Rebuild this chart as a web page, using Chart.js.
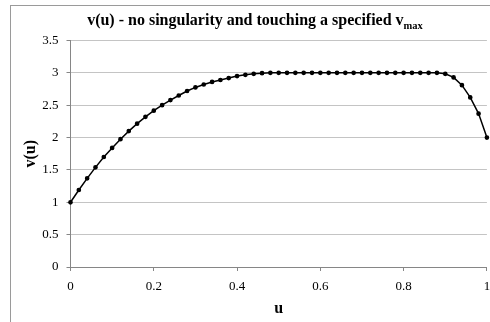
<!DOCTYPE html>
<html>
<head>
<meta charset="utf-8">
<script src="https://cdn.jsdelivr.net/npm/chart.js@4"></script>
<style>
  html, body { margin: 0; padding: 0; background: #fff; }
  #wrap { position: relative; width: 490px; height: 322px; overflow: hidden; }
  #frame { position: absolute; left: 10px; top: 5px; width: 500px; height: 340px; border: 1px solid #9a9a9a; }
  canvas { position: absolute; left: 0; top: 0; }
</style>
</head>
<body>
<div id="wrap">
  <div id="frame"></div>
  <canvas id="chart" width="490" height="322"></canvas>
</div>
<script>
const uValues = [
  0, 0.02, 0.04, 0.06, 0.08, 0.1, 0.12, 0.14, 0.16, 0.18,
  0.2, 0.22, 0.24, 0.26, 0.28, 0.3, 0.32, 0.34, 0.36, 0.38,
  0.4, 0.42, 0.44, 0.46, 0.48, 0.5, 0.52, 0.54, 0.56, 0.58,
  0.6, 0.62, 0.64, 0.66, 0.68, 0.7, 0.72, 0.74, 0.76, 0.78,
  0.8, 0.82, 0.84, 0.86, 0.88, 0.9, 0.92, 0.94, 0.96, 0.98, 1
];
const vValues = [
  1.00, 1.19, 1.37, 1.54, 1.70, 1.84, 1.975, 2.10, 2.215, 2.32,
  2.415, 2.50, 2.58, 2.65, 2.72, 2.775, 2.82, 2.86, 2.89, 2.92,
  2.95, 2.97, 2.985, 2.995, 3.0, 3.0, 3.0, 3.0, 3.0, 3.0,
  3.0, 3.0, 3.0, 3.0, 3.0, 3.0, 3.0, 3.0, 3.0, 3.0,
  3.0, 3.0, 3.0, 3.0, 3.0, 2.985, 2.93, 2.81, 2.62, 2.37, 2.00
];
const xTicks = [0, 0.2, 0.4, 0.6, 0.8, 1];
const yTicks = [0, 0.5, 1, 1.5, 2, 2.5, 3, 3.5];

const titleMain = 'v(u) - no singularity and touching a specified v';
const titleSub = 'max';
const xTitle = 'u';
const yTitle = 'v(u)';

const serif = '"Liberation Serif", "Times New Roman", serif';
const axisColor = '#868686';
const gridColor = '#c4c4c4';

// title with subscript, drawn by hand since Chart.js titles have no sub
const subTitlePlugin = {
  id: 'subTitle',
  afterDraw(chart) {
    const ctx = chart.ctx;
    ctx.save();
    ctx.fillStyle = '#000';
    ctx.textBaseline = 'alphabetic';
    ctx.font = 'bold 16px ' + serif;
    const w1 = ctx.measureText(titleMain).width;
    ctx.font = 'bold 10.5px ' + serif;
    const w2 = ctx.measureText(titleSub).width;
    const x0 = 255 - (w1 + w2) / 2;
    ctx.font = 'bold 16px ' + serif;
    ctx.fillText(titleMain, x0, 25);
    ctx.font = 'bold 10.5px ' + serif;
    ctx.fillText(titleSub, x0 + w1, 29);
    ctx.restore();
  }
};

const points = uValues.map((u, i) => ({ x: u, y: vValues[i] }));

new Chart(document.getElementById('chart'), {
  type: 'scatter',
  data: {
    datasets: [{
      data: points,
      showLine: true,
      borderColor: '#000',
      backgroundColor: '#000',
      borderWidth: 1.5,
      pointRadius: 1.6,
      pointHoverRadius: 1.6,
      pointBackgroundColor: '#000',
      pointBorderColor: '#000',
      tension: 0,
      clip: 6
    }]
  },
  options: {
    responsive: false,
    animation: false,
    events: [],
    layout: { padding: { top: 40.5, right: 1.5, left: 0, bottom: 0 } },
    plugins: {
      legend: { display: false },
      title: { display: false },
      tooltip: { enabled: false }
    },
    scales: {
      x: {
        type: 'linear',
        min: 0,
        max: 1,
        afterBuildTicks: s => { s.ticks = xTicks.map(v => ({ value: v })); },
        afterFit: s => { s.height = 55; s.paddingRight = 0; s.paddingLeft = 0; },
        ticks: {
          color: '#000',
          font: { family: serif, size: 13 },
          padding: 8,
          maxRotation: 0,
          callback: v => String(v)
        },
        grid: { drawOnChartArea: false, tickLength: 4, color: axisColor },
        border: { color: axisColor, width: 1 },
        title: {
          display: true,
          text: xTitle,
          color: '#000',
          font: { family: serif, size: 16, weight: 'bold' },
          padding: { top: 0, bottom: 4 }
        }
      },
      y: {
        min: 0,
        max: 3.5,
        afterBuildTicks: s => { s.ticks = yTicks.map(v => ({ value: v })); },
        afterFit: s => { s.width = 70.5; },
        ticks: {
          color: '#000',
          font: { family: serif, size: 13 },
          padding: 8,
          callback: v => String(v)
        },
        grid: { color: gridColor, tickLength: 4, tickColor: axisColor },
        border: { color: axisColor, width: 1 },
        title: {
          display: true,
          text: yTitle,
          color: '#000',
          font: { family: serif, size: 16, weight: 'bold' },
          padding: { top: 21, bottom: 0 }
        }
      }
    }
  },
  plugins: [subTitlePlugin]
});
</script>
</body>
</html>
